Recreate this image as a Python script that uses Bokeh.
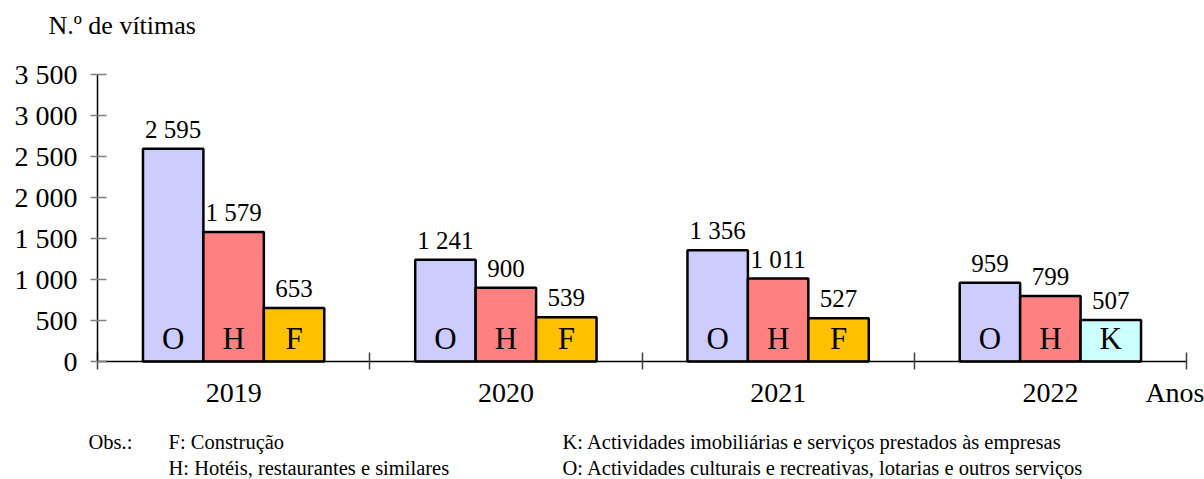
from bokeh.plotting import figure
from bokeh.models import ColumnDataSource, Range1d, FixedTicker, LinearAxis
from bokeh.embed import file_html
from bokeh.resources import INLINE
from bokeh.core.properties import value

# Victims by year for the three leading sectors (sector codes below)
years = ["2019", "2020", "2021", "2022"]
first_code = ["O", "O", "O", "O"]
first_values = [2595, 1241, 1356, 959]
second_code = ["H", "H", "H", "H"]
second_values = [1579, 900, 1011, 799]
third_code = ["F", "F", "F", "K"]
third_values = [653, 539, 527, 507]

sector_colors = {"O": "#CCCCFF", "H": "#FF8080", "F": "#FFC000", "K": "#CCFFFF"}

y_ticks = [0, 500, 1000, 1500, 2000, 2500, 3000, 3500]

unit_caption = "N.º de vítimas"
year_caption = "Anos"
notes_head = "Obs.:"
notes_left = ["F: Construção", "H: Hotéis, restaurantes e similares"]
notes_right = ["K: Actividades imobiliárias e serviços prestados às empresas",
               "O: Actividades culturais e recreativas, lotarias e outros serviços"]

FONT = "Liberation Serif"
W, H = 1204, 479


def fmt(v):
    return f"{v:,}".replace(",", " ")


# plot geometry in pixels: value axis at x=97, baseline at y=361,
# 3 500 victims reach y=74, each year group is 272.25 px wide
AX_X, AX_Y, TOP_Y, GROUP_PX = 97, 361, 74, 272.25
px_per_unit = (AX_Y - TOP_Y) / 3500

bar_w = 0.222
xs, tops, codes, colors, labels = [], [], [], [], []
for i in range(len(years)):
    for off, cds, vals in ((-bar_w, first_code, first_values),
                           (0.0, second_code, second_values),
                           (bar_w, third_code, third_values)):
        xs.append(i + 0.5 + off)
        tops.append(vals[i])
        codes.append(cds[i])
        colors.append(sector_colors[cds[i]])
        labels.append(fmt(vals[i]))

src = ColumnDataSource(dict(
    x=xs, top=tops, code=codes, color=colors, label=labels,
    label_y=[t + 19.5 / px_per_unit for t in tops],
    code_y=[23.5 / px_per_unit] * len(xs)))

p = figure(width=W, height=H, output_backend="svg", toolbar_location=None,
           x_range=Range1d(-AX_X / GROUP_PX, (W - AX_X) / GROUP_PX),
           y_range=Range1d(-(H - AX_Y) / px_per_unit, 3500 + TOP_Y / px_per_unit),
           min_border=0, x_axis_location=None, y_axis_location=None)
p.outline_line_color = None
p.xgrid.visible = False
p.ygrid.visible = False
# pixel coordinates for captions and notes
p.extra_x_ranges = {"px": Range1d(0, W)}
p.extra_y_ranges = {"px": Range1d(H, 0)}

p.vbar(x="x", top="top", bottom=0, width=bar_w, source=src,
       fill_color="color", line_color="black", line_width=2.5)

p.text(x="x", y="label_y", text="label", source=src, text_align="center",
       text_baseline="middle", text_font=value(FONT), text_font_size="25px",
       text_color="black")
p.text(x="x", y="code_y", text="code", source=src, text_align="center",
       text_baseline="middle", text_font=value(FONT), text_font_size="31px",
       text_color="black")

# value axis, pinned at x = 0
yax = LinearAxis(fixed_location=0, bounds=(0, 3500),
                 ticker=FixedTicker(ticks=y_ticks, minor_ticks=[]))
yax.major_label_overrides = {t: fmt(t) for t in y_ticks}
yax.major_label_text_font = FONT
yax.major_label_text_font_size = "28px"
yax.major_label_text_color = "black"
yax.major_label_standoff = 13
yax.major_tick_in = 9
yax.major_tick_out = 7
yax.major_tick_line_color = "#808080"
yax.major_tick_line_width = 1.5
yax.axis_line_color = "black"
yax.axis_line_width = 1.5
p.add_layout(yax, "left")

# year axis pinned at y = 0: labels at group centres, separators at
# group boundaries, the unit name at the far end
anos_pos = (1175 - AX_X) / GROUP_PX
centres = [i + 0.5 for i in range(len(years))]
xax = LinearAxis(fixed_location=0, bounds=(0, len(years)),
                 ticker=FixedTicker(ticks=centres + [anos_pos],
                                    minor_ticks=list(range(len(years) + 1))))
overrides = {c: y for c, y in zip(centres, years)}
overrides[anos_pos] = year_caption
xax.major_label_overrides = overrides
xax.major_label_text_font = FONT
xax.major_label_text_font_size = "28px"
xax.major_label_text_color = "black"
xax.major_label_standoff = 7
xax.major_tick_in = 0
xax.major_tick_out = 8
xax.major_tick_line_color = None
xax.minor_tick_in = 9
xax.minor_tick_out = 8
xax.minor_tick_line_color = "#404040"
xax.minor_tick_line_width = 1.5
xax.axis_line_color = "black"
xax.axis_line_width = 1.5
p.add_layout(xax, "below")

# caption over the value axis
p.text(x=[48], y=[25], text=[unit_caption], x_range_name="px", y_range_name="px",
       text_align="left", text_baseline="middle", text_font=value(FONT),
       text_font_size="26px", text_color="black")

# sector notes under the chart
note_src = ColumnDataSource(dict(
    text=[notes_head] + notes_left + notes_right,
    x=[88, 168, 168, 562, 562],
    y=[441, 441, 467, 441, 467]))
p.text(x="x", y="y", text="text", source=note_src, x_range_name="px",
       y_range_name="px", text_align="left", text_baseline="middle",
       text_font=value(FONT), text_font_size="20.5px", text_color="black")

open("out.html", "w").write(file_html(p, INLINE))
